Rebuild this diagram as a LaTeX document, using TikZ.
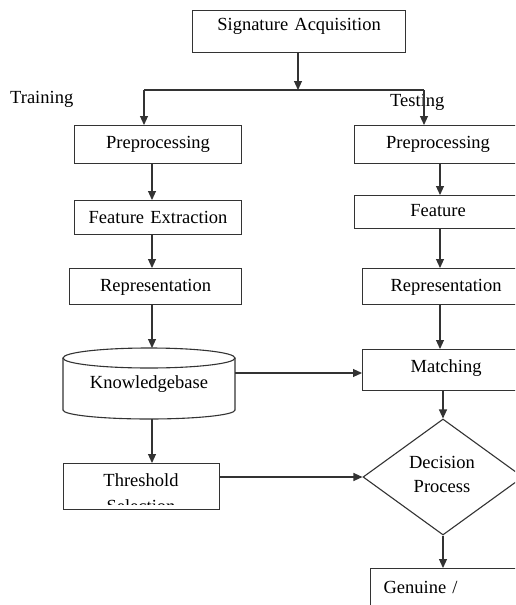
\documentclass[tikz,border=0pt]{standalone}
\usepackage{fontspec}
\setmainfont{Liberation Serif}
\usetikzlibrary{shapes.geometric,arrows.meta}
\begin{document}
\begin{tikzpicture}[x=1pt,y=-1pt,
  every node/.style={font=\fontsize{18.5}{24}\selectfont},
  ln/.style={draw=black!80,line width=1.1pt},
  arr/.style={ln,-{Triangle[length=9pt,width=8pt]}},
  boxed/.style={draw=black!80,line width=1.1pt,rectangle,inner sep=0pt,anchor=north west,text width=#1,align=center},
]
\useasboundingbox (0,0) rectangle (515,605);
\clip (0,0) rectangle (515,605);
\fill[white] (0,0) rectangle (515,605);

% boxes: text height = baseline - top, text depth = bottom - baseline
\node[boxed=213pt,text height=20pt,text depth=22pt] (sig) at (192,10) {Signature Acquisition};
\node[boxed=167pt,text height=23pt,text depth=15pt] (lpre) at (74,125) {Preprocessing};
\node[boxed=167pt,text height=23pt,text depth=15pt] (rpre) at (354,125) {Preprocessing};
\node[boxed=167pt,text height=23pt,text depth=11pt] (lfe) at (74,200) {Feature Extraction};
\node[boxed=167pt,text height=21pt,text depth=12pt] (rfe) at (354,195) {Feature};
\node[boxed=172pt,text height=23pt,text depth=13pt] (lrep) at (69,268) {Representation};
\node[boxed=167pt,text height=23pt,text depth=13pt] (rrep) at (362,268) {Representation};
\node[boxed=167pt,text height=23pt,text depth=18pt] (match) at (362,349) {Matching};
\node[boxed=167pt,text height=25pt,text depth=40pt] (gen) at (370,568) {\hspace*{13pt}Genuine /\hfill\null};

% threshold box with clipped text
\node[draw=black!80,line width=1.1pt,rectangle,inner sep=0pt,minimum width=156pt,minimum height=46pt,anchor=north west] (thr) at (63,463) {};
\begin{scope}
\clip (63,463) rectangle (219,504);
\node[anchor=base,inner sep=0pt] (thrtext1) at (141,486) {Threshold};
\node[anchor=base,inner sep=0pt] (thrtext2) at (141,512) {Selection};
\end{scope}

% cylinder
\draw[ln,fill=white] (63,358) -- (63,410) arc[start angle=180,end angle=0,x radius=86,y radius=9] -- (235,358);
\draw[ln] (149,358) ellipse[x radius=86,y radius=10];
\node[anchor=base,inner sep=0pt] (kbtext) at (149,388) {Knowledgebase};
\coordinate (kbtop) at (152,348);
\coordinate (kbbot) at (152,419);
\coordinate (kbright) at (235,373);

% diamond
\node[draw=black!80,line width=1.1pt,diamond,aspect=1.38,minimum width=160pt,minimum height=116pt,inner sep=0pt] (dec) at (443,477) {};
\node[anchor=base,inner sep=0pt] (dect1) at (442,468) {Decision};
\node[anchor=base,inner sep=0pt] (dect2) at (442,492) {Process};

% labels
\node[anchor=base west,inner sep=0pt] (train) at (10,103) {Training};
\node[anchor=base west,inner sep=0pt] (test) at (390,106) {Testing};

% connectors
\coordinate (split) at (298,90);
\coordinate (sl) at (144,90);
\coordinate (sr) at (424,90);
\draw[arr] (sig.south -| split) -- (split);
\draw[ln] (sl) -- (sr);
\draw[arr] (sl) -- (sl |- lpre.north);
\draw[arr] (sr) -- (sr |- rpre.north);

\coordinate (lc) at (152,0);
\coordinate (rc) at (440,0);
\draw[arr] (lc |- lpre.south) -- (lc |- lfe.north);
\draw[arr] (lc |- lfe.south) -- (lc |- lrep.north);
\draw[arr] (lc |- lrep.south) -- (kbtop);
\draw[arr] (kbbot) -- (lc |- thr.north);

\draw[arr] (rc |- rpre.south) -- (rc |- rfe.north);
\draw[arr] (rc |- rfe.south) -- (rc |- rrep.north);
\draw[arr] (rc |- rrep.south) -- (rc |- match.north);

\draw[arr] (kbright) -- (kbright -| match.west);
\coordinate (dc) at (443,0);
\draw[arr] (dc |- match.south) -- (dec.north);
\draw[arr] (thr.east |- dec.west) -- (dec.west);
\draw[arr] (dec.south) -- (dc |- gen.north);
\end{tikzpicture}
\end{document}
